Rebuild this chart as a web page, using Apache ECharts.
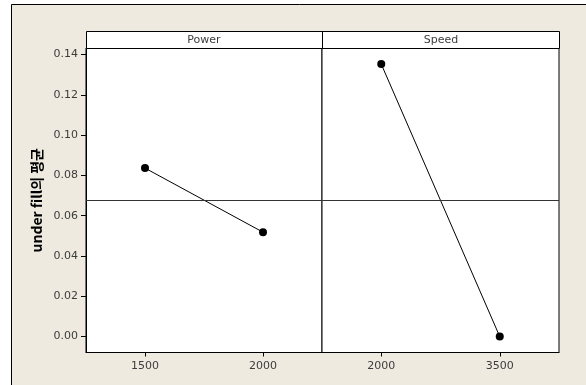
<!DOCTYPE html>
<html>
<head>
<meta charset="utf-8">
<script src="https://cdn.jsdelivr.net/npm/echarts@6/dist/echarts.min.js"></script>
<style>html,body{margin:0;padding:0;background:#fff}#c{width:586px;height:385px}</style>
</head>
<body>
<div id="c"></div>
<script>
// ---- data ----
const powerLevels = ['1500', '2000'];
const powerMeans = [0.0836, 0.0518];
const speedLevels = ['2000', '3500'];
const speedMeans = [0.1352, 0.0000];
const grandMean = 0.0677;
const yTicks = [0, 0.02, 0.04, 0.06, 0.08, 0.10, 0.12, 0.14];
const panelTitles = ['Power', 'Speed'];
const yTitle = 'under fill의 평균';

const txt = '#3c3c3c';
const fontFam = '"DejaVu Sans", sans-serif';
const yMin = -0.0079, yMax = 0.1432;

const chart = echarts.init(document.getElementById('c'), null, {renderer: 'canvas'});

function xAx(idx, cats) {
  return {
    type: 'category', gridIndex: idx, data: cats, boundaryGap: true,
    axisLine: {show: true, onZero: false, lineStyle: {color: '#000', width: 1}},
    axisTick: {show: true, alignWithLabel: true, length: 4, lineStyle: {color: '#000'}},
    axisLabel: {color: txt, fontSize: 11, fontFamily: fontFam, margin: 8},
    splitLine: {show: false}
  };
}
function yAx(idx, showLabels) {
  return {
    type: 'value', gridIndex: idx, min: yMin, max: yMax,
    axisLine: {show: showLabels, onZero: false, lineStyle: {color: '#000'}},
    axisTick: {show: showLabels, length: 5, lineStyle: {color: '#000'}, customValues: yTicks},
    axisLabel: {show: showLabels, color: txt, fontSize: 11, fontFamily: fontFam, margin: 8,
      customValues: yTicks, formatter: v => v.toFixed(2)},
    splitLine: {show: false},
    name: showLabels ? yTitle : '',
    nameLocation: 'middle', nameGap: 42, nameRotate: 90,
    nameTextStyle: {color: '#000', fontSize: 14, fontWeight: 'bold', fontFamily: '"Noto Sans CJK KR", sans-serif'}
  };
}
function ser(idx, data) {
  return {
    type: 'line', xAxisIndex: idx, yAxisIndex: idx, data: data,
    symbol: 'circle', symbolSize: 8, animation: false,
    lineStyle: {color: '#000', width: 1}, itemStyle: {color: '#000'},
    markLine: {silent: true, symbol: 'none', precision: 6, label: {show: false},
      lineStyle: {color: '#333', width: 1, type: 'solid'},
      data: [{yAxis: grandMean}]}
  };
}

chart.setOption({
  backgroundColor: '#fff',
  animation: false,
  grid: [
    {left: 86, right: 264, top: 48, bottom: 32.5, show: true, backgroundColor: '#fff', borderColor: '#000', borderWidth: 1},
    {left: 322, right: 27, top: 48, bottom: 32.5, show: true, backgroundColor: '#fff', borderColor: '#000', borderWidth: 1}
  ],
  xAxis: [xAx(0, powerLevels), xAx(1, speedLevels)],
  yAxis: [yAx(0, true), yAx(1, false)],
  series: [ser(0, powerMeans), ser(1, speedMeans)],
  graphic: [
    {type: 'rect', z: -100, shape: {x: 11.5, y: 4.5, width: 700, height: 500},
      style: {fill: '#eeeae0', stroke: '#000', lineWidth: 1}},
    {type: 'rect', z: 100, shape: {x: 86.5, y: 31.5, width: 473, height: 17},
      style: {fill: '#fff', stroke: '#000', lineWidth: 1}},
    {type: 'line', z: 101, shape: {x1: 322.5, y1: 31.5, x2: 322.5, y2: 48.5},
      style: {stroke: '#000', lineWidth: 1}},
    {type: 'text', z: 102, x: 204, y: 40, style: {text: panelTitles[0], fill: txt, font: '11px ' + fontFam, textAlign: 'center', textVerticalAlign: 'middle'}},
    {type: 'text', z: 102, x: 441, y: 40, style: {text: panelTitles[1], fill: txt, font: '11px ' + fontFam, textAlign: 'center', textVerticalAlign: 'middle'}}
  ]
});
</script>
</body>
</html>
